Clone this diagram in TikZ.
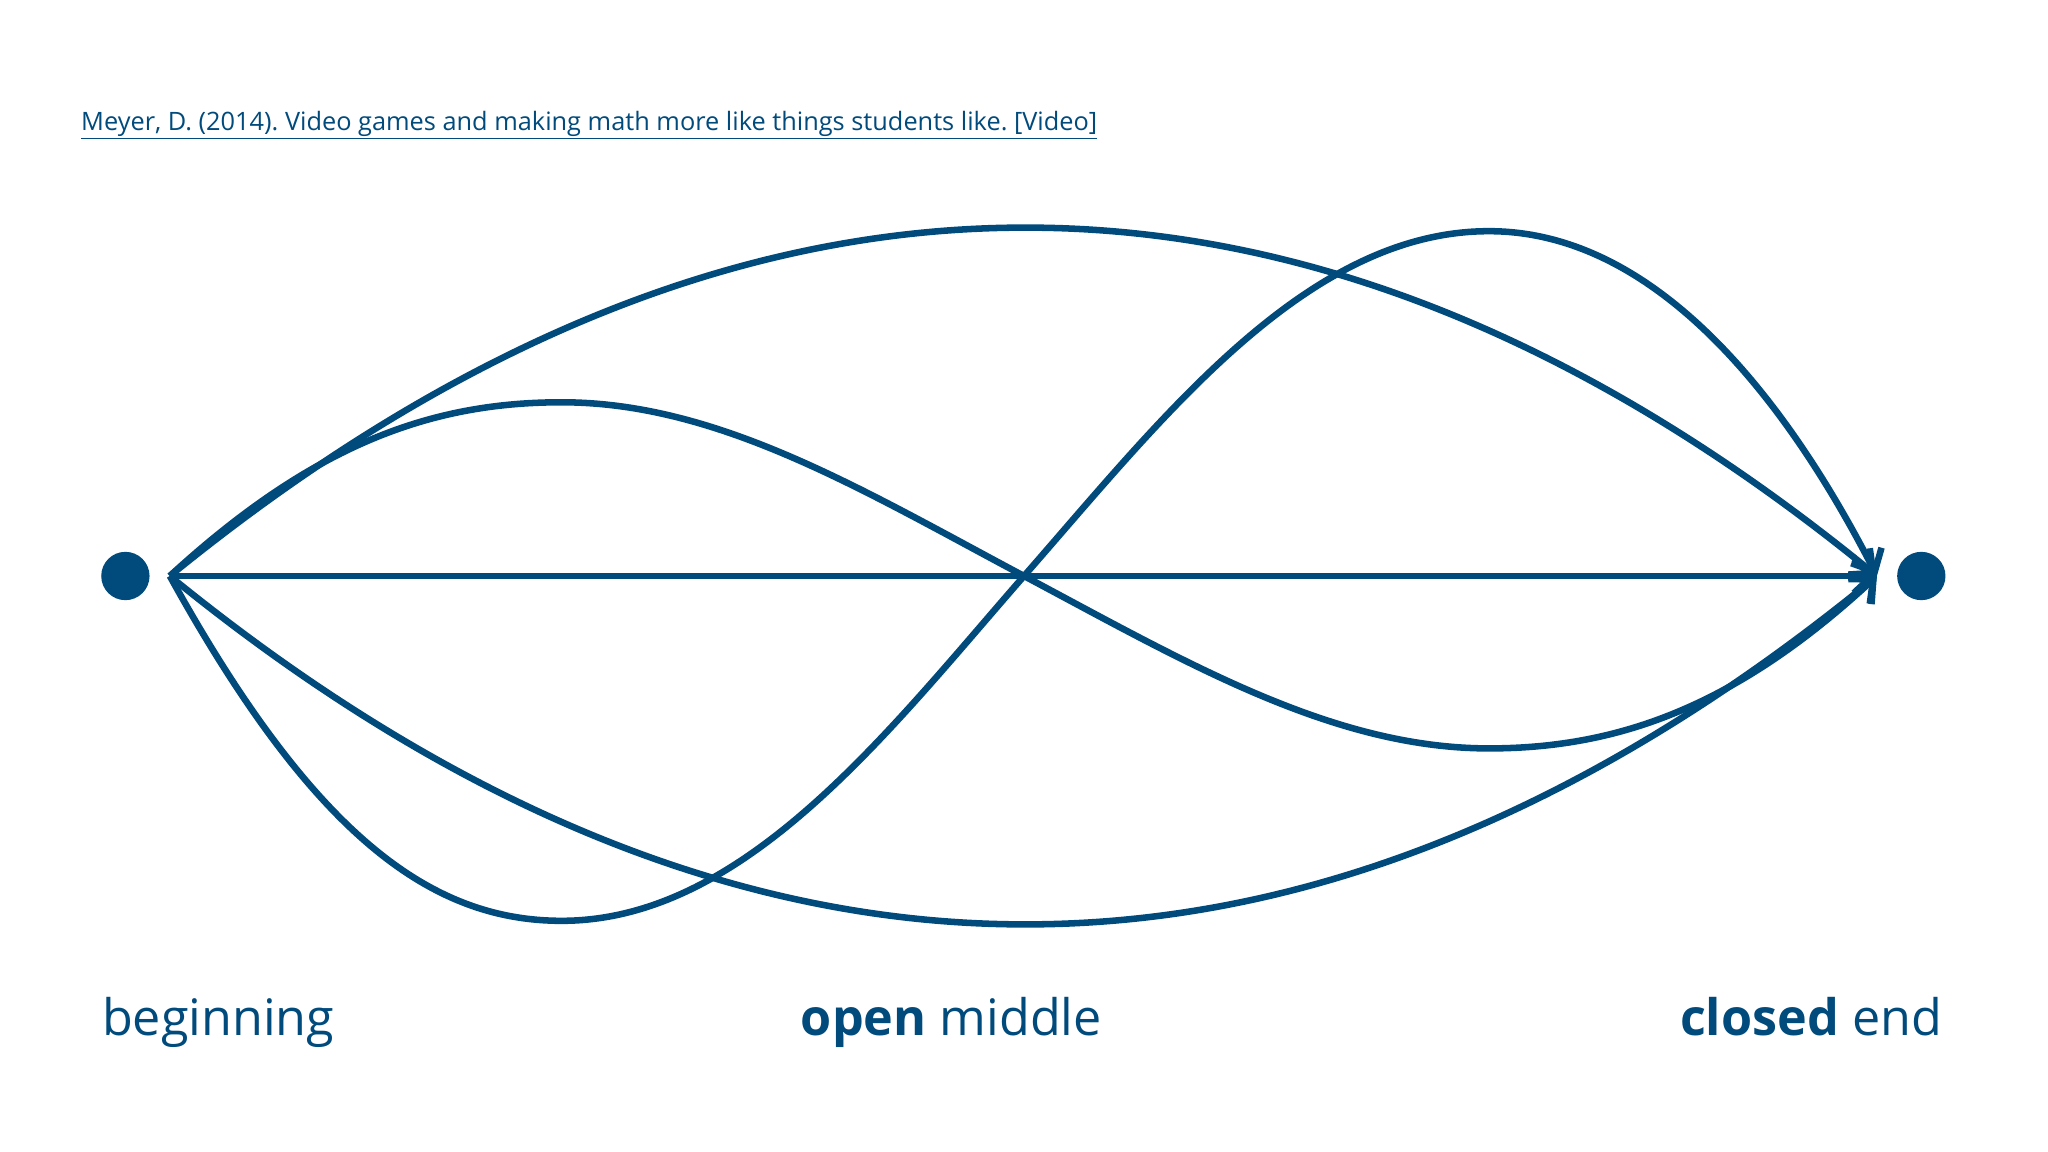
\documentclass[tikz,border=0pt]{standalone}
\usepackage{fontspec}
\setmainfont{Open Sans}
\usetikzlibrary{arrows.meta}
\definecolor{navy}{HTML}{004A7C}
\frenchspacing
\begin{document}
\begin{tikzpicture}[x=1pt,y=-1pt,
  line/.style={draw=navy,line width=5pt},
  path/.style={line,-{Straight Barb[length=14pt,width=26pt,line width=5pt]}},
  dot/.style={circle,fill=navy,minimum size=37pt,inner sep=0pt},
  lab/.style={text=navy,font=\fontsize{38.5}{44}\selectfont,anchor=base west,inner sep=0pt}]
\useasboundingbox (0,0) rectangle (1568,882);
\node[dot] (B) at (96,441) {};
\node[dot] (E) at (1471,441) {};
\coordinate (s) at (130,441);
\coordinate (e) at (1437,441);
\coordinate (m) at (784,441);
\draw[path] (s) -- (e);
\draw[path] (s) .. controls (566,86) and (1002,86) .. (e);
\draw[path] (s) .. controls (566,796) and (1002,796) .. (e);
\draw[line] (s) .. controls (240,340) and (330,308) .. (430,308) .. controls (550,308) and (660,375) .. (m);
\draw[path] (m) .. controls (908,507) and (1020,573) .. (1140,573) .. controls (1240,573) and (1330,540) .. (e);
\draw[line] (s) .. controls (240,640) and (330,705) .. (430,705) .. controls (570,705) and (680,560) .. (m);
\draw[path] (m) .. controls (890,320) and (1000,177) .. (1140,177) .. controls (1270,177) and (1370,310) .. (e);
\node[text=navy,font=\fontsize{19.4}{22}\selectfont,anchor=base west,inner sep=0pt] (cite) at (62,100) {\underline{Meyer, D. (2014). Video games and making math more like things students like. [Video]}};
\node[lab] (l1) at (78,793) {beginning};
\node[lab] (l2) at (613,793) {\textbf{open} middle};
\node[lab,anchor=base east] (l3) at (1487,793) {\textbf{closed} end};
\end{tikzpicture}
\end{document}
